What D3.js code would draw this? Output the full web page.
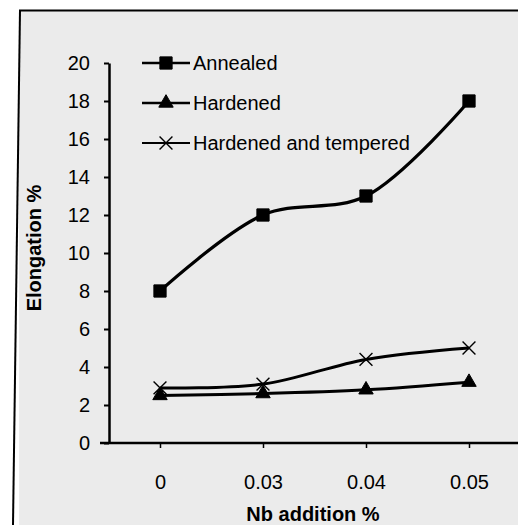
<!DOCTYPE html>
<html>
<head>
<meta charset="utf-8">
<script src="https://cdn.jsdelivr.net/npm/d3@7"></script>
<style>
  html, body { margin: 0; padding: 0; background: #fff; }
  svg { display: block; }
  text { font-family: "Liberation Sans", Arial, sans-serif; fill: #000; }
</style>
</head>
<body>
<svg id="chart" width="518" height="525"></svg>
<script>
// ---- data ----
const categories = ["0", "0.03", "0.04", "0.05"];
const annealed = [8, 12, 13, 18];
const hardened = [2.5, 2.6, 2.8, 3.2];
const hardenedTempered = [2.9, 3.1, 4.4, 5.0];
const seriesNames = ["Annealed", "Hardened", "Hardened and tempered"];
const yTicks = [0, 2, 4, 6, 8, 10, 12, 14, 16, 18, 20];
const xTitle = "Nb addition %";
const yTitle = "Elongation %";

// ---- layout ----
const W = 518, H = 525;
const svg = d3.select("#chart");

// scanned-page backdrop and frame
svg.append("rect").attr("x", 19).attr("y", 10).attr("width", W - 19).attr("height", H - 10)
  .attr("fill", "#ebebeb");
svg.append("line").attr("x1", 19).attr("y1", 10.5).attr("x2", W).attr("y2", 10.5)
  .attr("stroke", "#000").attr("stroke-width", 2);
svg.append("line").attr("x1", 20).attr("y1", 10).attr("x2", 13).attr("y2", H)
  .attr("stroke", "#000").attr("stroke-width", 2);

const axisX = 109;
const y = d3.scaleLinear().domain([0, 20]).range([443, 63]);
const x = d3.scalePoint().domain(categories).range([160, 469]);

// y axis
const gy = svg.append("g").attr("transform", `translate(${axisX},0)`)
  .call(d3.axisLeft(y).tickValues(yTicks).tickSize(5).tickSizeOuter(0).tickPadding(14));
gy.select(".domain").attr("stroke", "#000").attr("stroke-width", 2.5);
gy.selectAll(".tick line").attr("stroke", "#000").attr("stroke-width", 2);
gy.selectAll(".tick text").attr("font-size", 20).attr("font-family", "Liberation Sans, Arial, sans-serif");

// x axis
const gx = svg.append("g").attr("transform", `translate(0,${y(0)})`)
  .call(d3.axisBottom(x).tickSize(5).tickPadding(27));
gx.select(".domain").remove();
gx.selectAll(".tick line").attr("stroke", "#000").attr("stroke-width", 1.5);
gx.selectAll(".tick text").attr("font-size", 20).attr("font-family", "Liberation Sans, Arial, sans-serif");
svg.append("line").attr("x1", 100).attr("x2", W).attr("y1", y(0)).attr("y2", y(0))
  .attr("stroke", "#000").attr("stroke-width", 2.5);

// axis titles
svg.append("text").attr("x", 313).attr("y", 521).attr("text-anchor", "middle")
  .attr("font-size", 20).attr("font-weight", "bold").text(xTitle);
svg.append("text").attr("transform", "translate(41,248) rotate(-90)").attr("text-anchor", "middle")
  .attr("font-size", 20).attr("font-weight", "bold").text(yTitle);

// series
const series = [
  { name: seriesNames[0], values: annealed, symbol: d3.symbolSquare, size: 150, filled: true, width: 3.2 },
  { name: seriesNames[1], values: hardened, symbol: d3.symbolTriangle, size: 90, filled: true, width: 3 },
  { name: seriesNames[2], values: hardenedTempered, symbol: d3.symbolX, size: 110, filled: false, width: 3 }
];

const line = d3.line().x((d, i) => x(categories[i])).y(d => y(d)).curve(d3.curveCatmullRom.alpha(0.5));

function drawSymbol(g, s, cx, cy) {
  g.append("path")
    .attr("d", d3.symbol(s.symbol, s.size)())
    .attr("transform", `translate(${cx},${cy})`)
    .attr("fill", s.filled ? "#000" : "none")
    .attr("stroke", "#000")
    .attr("stroke-width", s.filled ? 1 : 1.4);
}

const plot = svg.append("g");
series.forEach(s => {
  plot.append("path").datum(s.values).attr("d", line)
    .attr("fill", "none").attr("stroke", "#000").attr("stroke-width", s.width);
  s.values.forEach((v, i) => drawSymbol(plot, s, x(categories[i]), y(v)));
});

// legend
const legendY = [63, 103, 143];
series.forEach((s, i) => {
  const g = svg.append("g");
  g.append("line").attr("x1", 142).attr("x2", 190).attr("y1", legendY[i]).attr("y2", legendY[i])
    .attr("stroke", "#000").attr("stroke-width", i === 2 ? 2 : 2.5);
  drawSymbol(g, s, 166, legendY[i]);
  g.append("text").attr("x", 193).attr("y", legendY[i]).attr("dy", "0.35em")
    .attr("font-size", 20).text(s.name);
});
</script>
</body>
</html>
